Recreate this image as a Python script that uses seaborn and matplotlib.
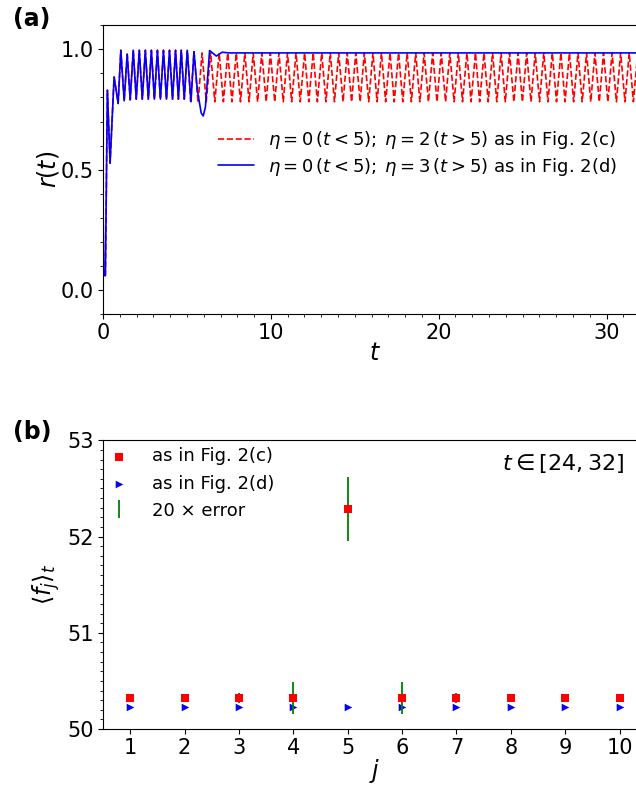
import matplotlib
matplotlib.use("Agg")
import matplotlib.pyplot as plt
import seaborn as sns
import pandas as pd
from matplotlib.ticker import MultipleLocator

# ---------------- Panel (a) data : r(t) ----------------
# identical part of both runs (t < ~5)
common_t = [0.00, 0.04, 0.14, 0.26, 0.42, 0.66, 0.90, 1.06, 1.26, 1.44, 1.62,
            1.80, 1.98, 2.16, 2.34, 2.52, 2.70, 2.88, 3.06, 3.24, 3.42, 3.60,
            3.78, 3.96, 4.14, 4.32, 4.49, 4.66, 4.84, 5.02]
common_r = [0.35, 0.06, 0.06, 0.83, 0.527, 0.885, 0.775, 0.996, 0.786, 0.98, 0.79,
            0.996, 0.793, 0.996, 0.793, 0.996, 0.793, 0.996, 0.793, 0.996, 0.793, 0.996,
            0.793, 0.996, 0.793, 0.996, 0.793, 0.996, 0.793, 0.996]

# eta = 2 after t = 5 (red dashed)
red_trans_t = [5.22, 5.42, 5.66]
red_trans_r = [0.785, 0.99, 0.778]
red_peak_t = [5.90, 6.41, 6.92, 7.43, 7.94, 8.45, 8.95, 9.46, 9.97, 10.48,
              10.99, 11.50, 12.01, 12.52, 13.03, 13.54, 14.04, 14.55, 15.06, 15.57,
              16.08, 16.59, 17.10, 17.61, 18.12, 18.63, 19.13, 19.64, 20.15, 20.66,
              21.17, 21.68, 22.19, 22.70, 23.21, 23.72, 24.22, 24.73, 25.24, 25.75,
              26.26, 26.77, 27.28, 27.79, 28.30, 28.81, 29.31, 29.82, 30.33, 30.84,
              31.35, 31.86, 32.37]
red_trough_t = [6.15, 6.66, 7.17, 7.68, 8.19, 8.70, 9.21, 9.72, 10.23, 10.74,
                11.24, 11.75, 12.26, 12.77, 13.28, 13.79, 14.30, 14.81, 15.32, 15.83,
                16.33, 16.84, 17.35, 17.86, 18.37, 18.88, 19.39, 19.90, 20.41, 20.92,
                21.42, 21.93, 22.44, 22.95, 23.46, 23.97, 24.48, 24.99, 25.50, 26.01,
                26.51, 27.02, 27.53, 28.04, 28.55, 29.06, 29.57, 30.08, 30.59, 31.10,
                31.60, 32.11, 32.62]
red_peak_level = 0.985
red_trough_level = 0.782

# eta = 3 after t = 5 (blue solid)
blue_tail_t = [5.24, 5.42, 5.62, 5.85, 5.97, 6.10, 6.35, 6.75, 7.10, 7.50, 32.6]
blue_tail_r = [0.782, 0.99, 0.83, 0.735, 0.723, 0.76, 0.995, 0.972, 0.988, 0.985, 0.985]

label_c = r"$\eta=0\,(t<5);\;\eta=2\,(t>5)$ as in Fig. 2(c)"
label_d = r"$\eta=0\,(t<5);\;\eta=3\,(t>5)$ as in Fig. 2(d)"

# ---------------- Panel (b) data ----------------
j_vals = [1, 2, 3, 4, 5, 6, 7, 8, 9, 10]
f_c = [50.325, 50.325, 50.325, 50.325, 52.285, 50.325, 50.325, 50.325, 50.325, 50.325]
f_d = [50.225, 50.225, 50.225, 50.225, 50.225, 50.225, 50.225, 50.225, 50.225, 50.225]
err20 = [0.02, 0.02, 0.05, 0.165, 0.33, 0.165, 0.05, 0.02, 0.02, 0.02]

# ---------------- build tables ----------------
red_tail = sorted([(t, red_peak_level) for t in red_peak_t] +
                  [(t, red_trough_level) for t in red_trough_t])
df_red = pd.DataFrame({
    "t": common_t + red_trans_t + [p[0] for p in red_tail],
    "r": common_r + red_trans_r + [p[1] for p in red_tail],
})
df_blue = pd.DataFrame({"t": common_t + blue_tail_t, "r": common_r + blue_tail_r})
df_b = pd.DataFrame({"j": j_vals, "fc": f_c, "fd": f_d, "err": err20})

# ---------------- style ----------------
sns.set_theme(style="ticks")
plt.rcParams.update({
    "font.family": ["DejaVu Sans"],
    "mathtext.fontset": "dejavusans",
    "text.color": "black",
    "axes.labelcolor": "black",
    "axes.edgecolor": "black",
    "axes.linewidth": 0.8,
    "xtick.color": "black",
    "ytick.color": "black",
    "xtick.labelcolor": "black",
    "ytick.labelcolor": "black",
    "xtick.major.size": 3.5,
    "ytick.major.size": 3.5,
    "xtick.minor.size": 2.0,
    "ytick.minor.size": 2.0,
    "xtick.major.width": 0.8,
    "ytick.major.width": 0.8,
    "xtick.minor.width": 0.6,
    "ytick.minor.width": 0.6,
    "xtick.major.pad": 3.0,
    "ytick.major.pad": 3.0,
    "xtick.labelsize": 15,
    "ytick.labelsize": 15,
    "axes.labelsize": 17,
    "legend.fontsize": 13,
})

fig = plt.figure(figsize=(6.36, 7.89), dpi=100)
ax_a = fig.add_axes([0.162, 0.602, 0.855, 0.366])
ax_b = fig.add_axes([0.162, 0.076, 0.855, 0.366])

# ---------------- panel (a) ----------------
sns.lineplot(data=df_red, x="t", y="r", ax=ax_a, color="red", linestyle="--",
             linewidth=1.2, sort=False, estimator=None, label=label_c)
sns.lineplot(data=df_blue, x="t", y="r", ax=ax_a, color="blue", linestyle="-",
             linewidth=1.2, sort=False, estimator=None, label=label_d)
ax_a.set_xlim(0, 32.4)
ax_a.set_ylim(-0.1, 1.1)
ax_a.set_xticks([0, 10, 20, 30])
ax_a.set_yticks([0.0, 0.5, 1.0])
ax_a.set_yticklabels(["0.0", "0.5", "1.0"])
ax_a.xaxis.set_minor_locator(MultipleLocator(1))
ax_a.yaxis.set_minor_locator(MultipleLocator(0.1))
ax_a.set_xlabel(r"$t$", labelpad=-1.5)
ax_a.set_ylabel(r"$r(t)$", labelpad=0)
ax_a.legend(loc="upper left", bbox_to_anchor=(0.198, 0.665), frameon=False,
            borderaxespad=0, labelspacing=0.25)

# ---------------- panel (b) ----------------
sns.scatterplot(data=df_b, x="j", y="fd", ax=ax_b, marker=">", color="blue",
                s=30, linewidth=0, zorder=3, label="as in Fig. 2(d)")
eb = ax_b.errorbar(df_b["j"], df_b["fc"], yerr=df_b["err"], fmt="none",
                   ecolor="green", elinewidth=1.3, zorder=4, label="20 × error")
sns.scatterplot(data=df_b, x="j", y="fc", ax=ax_b, marker="s", color="red",
                s=28, linewidth=0, zorder=5, label="as in Fig. 2(c)")
ax_b.set_xlim(0.5, 10.5)
ax_b.set_ylim(50, 53)
ax_b.set_xticks(j_vals)
ax_b.set_yticks([50, 51, 52, 53])
ax_b.yaxis.set_minor_locator(MultipleLocator(0.1))
ax_b.set_xlabel(r"$j$", labelpad=-1.0)
ax_b.set_ylabel(r"$\langle f_j\rangle_t$")
h, l = ax_b.get_legend_handles_labels()
order = [l.index("as in Fig. 2(c)"), l.index("as in Fig. 2(d)"), l.index("20 × error")]
ax_b.legend([h[i] for i in order], [l[i] for i in order], loc="upper left",
            bbox_to_anchor=(0.0, 1.0), frameon=False, borderaxespad=0,
            handlelength=1.0, handletextpad=1.3)
ax_b.text(0.958, 0.92, r"$t\in[24,32]$", transform=ax_b.transAxes,
          ha="right", va="center", fontsize=16)

for ax in (ax_a, ax_b):
    for s in ax.spines.values():
        s.set_visible(True)

fig.text(0.02, 0.991, "(a)", fontsize=17, fontweight="bold", va="top", ha="left")
fig.text(0.02, 0.468, "(b)", fontsize=17, fontweight="bold", va="top", ha="left")

fig.savefig("out.png", dpi=100)
